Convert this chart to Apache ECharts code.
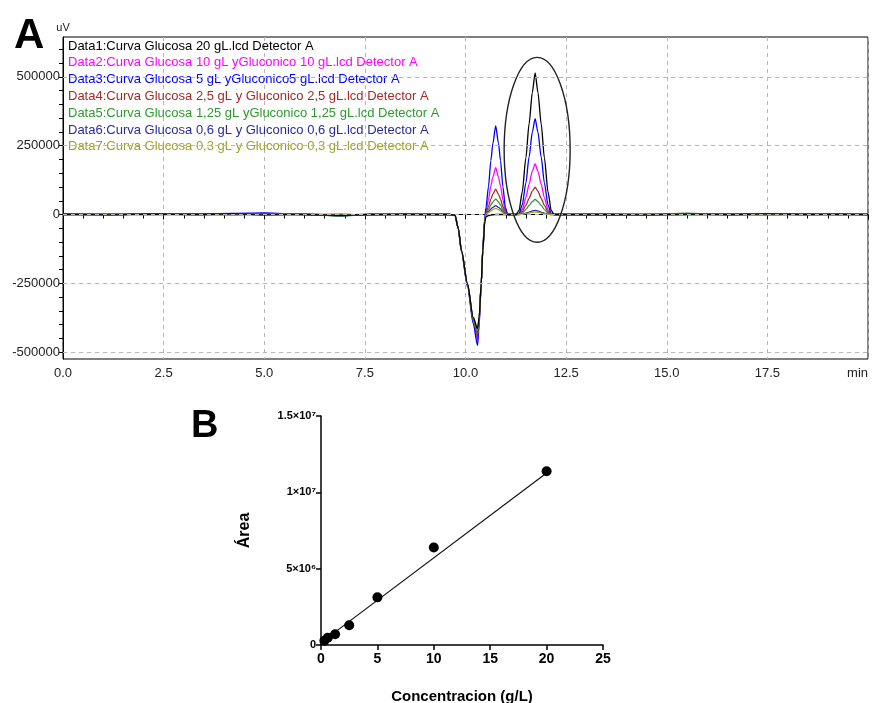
<!DOCTYPE html>
<html><head><meta charset="utf-8">
<script src="https://cdn.jsdelivr.net/npm/echarts@6/dist/echarts.min.js"></script>
<style>html,body{margin:0;padding:0;background:#fff}#c{width:875px;height:703px}</style>
</head><body><div id="c"></div>
<script>
// ---------- Panel A: chromatogram ----------
const seriesNames = [
  'Data1:Curva Glucosa 20 gL.lcd Detector A',
  'Data2:Curva Glucosa 10 gL yGluconico 10 gL.lcd Detector A',
  'Data3:Curva Glucosa 5 gL yGluconico5 gL.lcd Detector A',
  'Data4:Curva Glucosa 2,5 gL y Gluconico 2,5 gL.lcd Detector A',
  'Data5:Curva Glucosa 1,25 gL yGluconico 1,25 gL.lcd Detector A',
  'Data6:Curva Glucosa 0,6 gL y Gluconico 0,6 gL.lcd Detector A',
  'Data7:Curva Glucosa 0,3 gL y Gluconico 0,3 gL.lcd Detector A'
];
const seriesColors = ['#000000', '#ff00ff', '#0000ff', '#a52a2a', '#2e9a2e', '#2b2b9a', '#a0a030'];

const timeMin = [0, 1.2, 2.2, 3.3, 4.2, 5.0, 6.0, 6.9, 7.6, 8.5, 9.3,
  9.6, 9.74, 9.82, 9.9, 10.05, 10.19, 10.3, 10.34, 10.39, 10.43, 10.48,
  10.51, 10.57, 10.63, 10.68, 10.75, 10.82, 10.87, 10.93, 10.99, 11.05,
  11.15,
  11.26, 11.33, 11.41, 11.5, 11.58, 11.66, 11.73, 11.8, 11.88, 11.96, 12.05, 12.13, 12.2,
  12.4, 13.5, 14.5, 15.5, 16.5, 17.5, 18.5, 19.3, 20];

const data1 = [1000, -1000, 1500, 0, 2000, -1000, 0, -3000, 0, 1000, 0,
  0, -3000, -50000, -131000, -252000, -373000, -415000, -373000, -252000, -131000, -25000,
  -8000, -4000, -2000, -1000, 0, 0, 0, 0, 0, 0,
  0,
  0, 15000, 82000, 206000, 330000, 443000, 515000, 443000, 330000, 206000, 82000, 15000, 0,
  0, 0, -1000, 1000, 0, 2000, 0, 1000, 0];
const data2 = [0, 3000, 1000, -1000, 0, 2000, 1000, -2000, 1000, 0, 0,
  0, -3000, -51000, -133000, -258000, -385000, -455000, -390000, -255000, -125000, -15000,
  14000, 53000, 104000, 136000, 170000, 136000, 104000, 53000, 14000, 0,
  0,
  0, 2000, 18000, 61000, 110000, 158000, 184000, 158000, 110000, 61000, 18000, 2000, 0,
  0, 2000, 0, 0, 1000, 0, 2000, 0, 1000];
const data3 = [0, 0, 2000, 1000, 4000, 6000, 0, -5000, 0, 0, 0,
  0, -3000, -52000, -135000, -262000, -395000, -476000, -400000, -255000, -120000, -10000,
  26000, 100000, 196000, 258000, 322000, 258000, 196000, 100000, 26000, 0,
  0,
  0, 3000, 35000, 115000, 209000, 299000, 348000, 299000, 209000, 115000, 35000, 3000, 0,
  0, -2000, 0, 1000, 0, 0, 1000, 0, 0];
const data4 = [0, 2000, 3000, 0, -1000, 0, 0, 1000, -2000, 0, 0,
  0, -3000, -50000, -132000, -255000, -380000, -440000, -380000, -253000, -128000, -20000,
  7000, 29000, 56000, 74000, 92000, 74000, 56000, 29000, 7000, 0,
  0,
  0, 1000, 10000, 33000, 59000, 85000, 99000, 85000, 59000, 33000, 10000, 1000, 0,
  0, 0, 1000, 0, 0, 1000, 0, 0, 0];
const data5 = [0, 3000, 0, 1000, 3000, 0, 2000, -6000, 0, 0, 0,
  0, -3000, -50000, -132000, -254000, -378000, -432000, -377000, -253000, -129000, -22000,
  5000, 18000, 35000, 46000, 57000, 46000, 35000, 18000, 5000, 0,
  0,
  0, 500, 5500, 18000, 33000, 47000, 55000, 47000, 33000, 18000, 5500, 500, 0,
  0, 0, 0, 5000, 0, 0, 0, 0, 0];
const data6 = [0, 0, 0, 2000, 2000, 4000, 0, -4000, 0, 0, 0,
  0, -3000, -50000, -131000, -253000, -376000, -426000, -375000, -252000, -130000, -23000,
  3000, 10000, 20000, 26000, 32000, 26000, 20000, 10000, 3000, 0,
  0,
  0, 0, 1500, 5000, 9000, 13000, 15000, 13000, 9000, 5000, 1500, 0, 0,
  0, 0, 0, 0, 0, 0, 0, 0, 0];
const data7 = [0, 0, 0, 0, 0, 0, 0, -2000, 0, 0, 0,
  0, -3000, -50000, -131000, -252000, -375000, -422000, -374000, -252000, -130000, -24000,
  2000, 7000, 13000, 18000, 22000, 18000, 13000, 7000, 2000, 0,
  0,
  0, 0, 900, 3000, 5400, 7700, 9000, 7700, 5400, 3000, 900, 0, 0,
  0, 0, 0, 0, 0, 0, 0, 0, 0];
const chromValues = [data1, data2, data3, data4, data5, data6, data7];

const aXTicks = [0, 2.5, 5, 7.5, 10, 12.5, 15, 17.5, 20];
const aYLabels = [-500000, -250000, 0, 250000, 500000];
const aYMinorTicks = [-500000, -450000, -400000, -350000, -300000, -250000, -200000, -150000, -100000, -50000, 0,
  50000, 100000, 150000, 200000, 250000, 300000, 350000, 400000, 450000, 500000, 550000, 600000];
// annotation ellipse around the second peak (data coords: center min, center uV, radius min, radius uV)
const ellipseA = {cx: 11.78, cy: 235000, rx: 0.82, ry: 336000};

// ---------- Panel B: calibration ----------
const concGL = [0.3, 0.6, 1.25, 2.5, 5, 10, 20];
const areaVals = [280000, 480000, 700000, 1290000, 3120000, 6390000, 11380000];
const fitX = [0.3, 20];
const fitY = [320000, 11270000];
const bXTicks = [0, 5, 10, 15, 20, 25];
const bYTicks = [0, 5000000, 10000000, 15000000];
const bYTickLabels = ['0', '5×10⁶', '1×10⁷', '1.5×10⁷'];

const chart = echarts.init(document.getElementById('c'));
const FONT = 'Liberation Sans';

const chromSeries = seriesNames.map((n, i) => ({
  name: n, type: 'line', xAxisIndex: 0, yAxisIndex: 0,
  data: timeMin.map((t, k) => [t, chromValues[i][k]]),
  showSymbol: false, smooth: 0.25, smoothMonotone: 'x',
  lineStyle: {color: seriesColors[i], width: 1.3},
  itemStyle: {color: seriesColors[i]},
  z: i === 0 ? 4 : 3, silent: true
}));
chromSeries[0].markLine = {
  silent: true, symbol: 'none', label: {show: false},
  lineStyle: {color: '#b5b5b5', type: [4, 4], width: 1},
  data: aYLabels.map(v => ({yAxis: v}))
};

chart.setOption({
  animation: false,
  backgroundColor: '#fff',
  title: [
    {text: 'A', left: 9, top: 10, textStyle: {fontFamily: FONT, fontSize: 42, fontWeight: 'bold', color: '#000'}},
    {text: 'B', left: 186, top: 403, textStyle: {fontFamily: FONT, fontSize: 38, fontWeight: 'bold', color: '#000'}}
  ],
  legend: {
    show: true, orient: 'vertical', left: 58, top: 34,
    itemWidth: 0, itemHeight: 14, itemGap: 2.8, icon: 'none',
    selectedMode: false,
    textStyle: {fontFamily: FONT, fontSize: 13, lineHeight: 14, padding: 0},
    data: seriesNames.map((n, i) => ({name: n, textStyle: {color: seriesColors[i]}}))
  },
  grid: [
    {left: 63, right: 7, top: 37, bottom: 344, show: true, borderColor: '#000', borderWidth: 1,
      backgroundColor: 'transparent', containLabel: false, outerBoundsMode: 'none'},
    {left: 321, right: 272, top: 416, bottom: 58, containLabel: false, outerBoundsMode: 'none'}
  ],
  xAxis: [
    {
      type: 'value', gridIndex: 0, min: aXTicks[0], max: aXTicks[aXTicks.length - 1], interval: 2.5,
      axisLine: {show: true, lineStyle: {color: '#000', width: 1}},
      axisTick: {show: true, length: 5, lineStyle: {color: '#000'}},
      minorTick: {show: true, splitNumber: 5, length: 4, lineStyle: {color: '#000'}},
      axisLabel: {color: '#222', fontFamily: FONT, fontSize: 13, margin: 8, alignMaxLabel: 'right',
        formatter: v => (v === 20 ? 'min' : v.toFixed(1))},
      splitLine: {show: true, lineStyle: {color: '#b5b5b5', type: [4, 4]}}
    },
    {
      type: 'value', gridIndex: 1, min: 0, max: 25, interval: 5,
      name: 'Concentracion (g/L)', nameLocation: 'middle', nameGap: 44,
      nameTextStyle: {fontFamily: FONT, fontSize: 15, fontWeight: 'bold', color: '#000'},
      axisLine: {show: true, onZero: false, lineStyle: {color: '#000', width: 1.5}},
      axisTick: {show: true, length: 5, lineStyle: {color: '#000', width: 1.5}},
      axisLabel: {color: '#000', fontFamily: FONT, fontSize: 14, fontWeight: 'bold', margin: 7,
        customValues: bXTicks},
      splitLine: {show: false}
    }
  ],
  yAxis: [
    {
      type: 'value', gridIndex: 0, min: -525000, max: 645000,
      name: 'uV', nameLocation: 'end', nameGap: 4,
      nameTextStyle: {fontFamily: FONT, fontSize: 11, color: '#222', align: 'center'},
      axisLine: {show: true, lineStyle: {color: '#000', width: 1}},
      axisTick: {show: true, length: 4, lineStyle: {color: '#000'}, customValues: aYMinorTicks},
      axisLabel: {color: '#222', fontFamily: FONT, fontSize: 13, margin: 3,
        customValues: aYLabels, formatter: v => String(v)},
      splitLine: {show: false}
    },
    {
      type: 'value', gridIndex: 1, min: 0, max: 15000000, interval: 5000000,
      name: 'Área', nameLocation: 'middle', nameGap: 68, nameRotate: 90,
      nameTextStyle: {fontFamily: FONT, fontSize: 16, fontWeight: 'bold', color: '#000'},
      axisLine: {show: true, lineStyle: {color: '#000', width: 1.5}},
      axisTick: {show: true, length: 5, lineStyle: {color: '#000', width: 1.5}},
      axisLabel: {color: '#000', fontFamily: FONT, fontSize: 11, fontWeight: 'bold', margin: 5,
        formatter: v => bYTickLabels[bYTicks.indexOf(v)] ?? ''},
      splitLine: {show: false}
    }
  ],
  series: chromSeries.concat([
    {
      name: 'fit', type: 'line', xAxisIndex: 1, yAxisIndex: 1,
      data: fitX.map((x, i) => [x, fitY[i]]),
      showSymbol: false, lineStyle: {color: '#111', width: 1.2}, silent: true
    },
    {
      name: 'areas', type: 'scatter', xAxisIndex: 1, yAxisIndex: 1,
      data: concGL.map((x, i) => [x, areaVals[i]]),
      symbolSize: 10, itemStyle: {color: '#000', opacity: 1}, z: 5, silent: true
    }
  ])
});

const c0 = chart.convertToPixel({xAxisIndex: 0, yAxisIndex: 0}, [ellipseA.cx, ellipseA.cy]);
const e1 = chart.convertToPixel({xAxisIndex: 0, yAxisIndex: 0}, [ellipseA.cx + ellipseA.rx, ellipseA.cy + ellipseA.ry]);
chart.setOption({
  graphic: [{
    type: 'ellipse', silent: true, z: 10,
    shape: {cx: c0[0], cy: c0[1], rx: Math.abs(e1[0] - c0[0]), ry: Math.abs(c0[1] - e1[1])},
    style: {fill: 'none', stroke: '#222', lineWidth: 1.4}
  }]
});
</script>
</body></html>
